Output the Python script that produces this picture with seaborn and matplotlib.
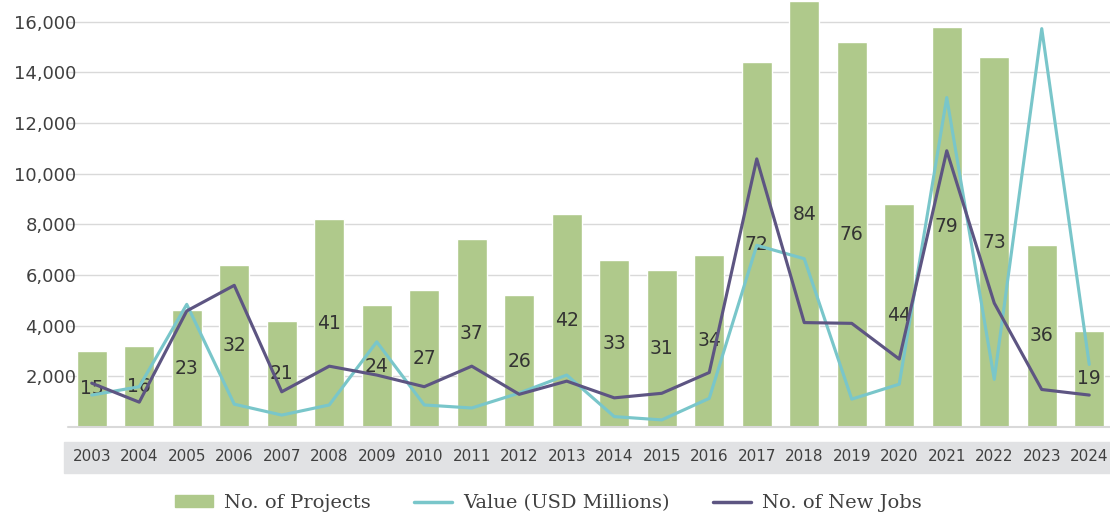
import numpy as np
import pandas as pd
import matplotlib
matplotlib.use('Agg')
import matplotlib.pyplot as plt
import seaborn as sns
from matplotlib.patches import Rectangle, Patch
from matplotlib.lines import Line2D

# 데이터
years = [str(y) for y in range(2003, 2025)]
projects = [15, 16, 23, 32, 21, 41, 24, 27, 37, 26, 42, 33, 31, 34, 72, 84, 76, 44, 79, 73, 36, 19]
value_usd = [1260, 1590, 4840, 900, 470, 870, 3360, 870, 750, 1340, 2050, 410, 280, 1130,
             7170, 6640, 1100, 1690, 13000, 1880, 15720, 2470]
new_jobs = [1730, 980, 4580, 5590, 1390, 2400, 2050, 1590, 2400, 1290, 1810, 1150, 1330, 2150,
            10580, 4120, 4090, 2680, 10900, 4890, 1480, 1260]

df = pd.DataFrame({'year': years, 'pos': range(len(years)),
                   'projects': projects, 'value': value_usd, 'jobs': new_jobs})

bar_color = '#afc98b'
teal = '#79c6ca'
purple = '#5d5582'
text_color = '#404040'

sns.set_style('white')
plt.rcParams['font.family'] = ['DejaVu Sans']

fig = plt.figure(figsize=(11.1, 5.17), dpi=100)

# x축 회색 띠
fig.add_artist(Rectangle((64 / 1110, 44 / 517), (1110 - 64) / 1110, 31 / 517,
                         transform=fig.transFigure, color='#e1e2e4', zorder=0))

ax = fig.add_axes([68 / 1110, 90 / 517, 1045 / 1110, 427 / 517])
ax.patch.set_alpha(0)

# 막대: 프로젝트 수
sns.barplot(data=df, x='year', y='projects', color=bar_color, width=0.63,
            saturation=1, ax=ax, zorder=2)
ax.bar_label(ax.containers[0], label_type='center', fontsize=13.5, color='#333333')
ax.set_xlim(-0.5, 21.5)
ax.set_ylim(0, 84.25)
ax.set_yticks(np.arange(0, 81, 10))
ax.set_yticklabels([])
ax.tick_params(axis='y', length=0)
ax.grid(axis='y', color='#d9d9d9', lw=1)
ax.set_axisbelow(True)
ax.axhline(0, color='#d9d9d9', lw=1.5, clip_on=False)
for s in ax.spines.values():
    s.set_visible(False)
ax.tick_params(axis='x', length=0, pad=16, labelsize=11, labelcolor=text_color)
ax.set_xlabel('')
ax.set_ylabel('')

# 선: 금액, 일자리 수
ax2 = ax.twinx()
sns.lineplot(data=df, x='pos', y='value', color=teal, lw=2.25, ax=ax2)
sns.lineplot(data=df, x='pos', y='jobs', color=purple, lw=2.25, ax=ax2)
ax2.set_xlim(-0.5, 21.5)
ax2.set_ylim(0, 16850)
ticks = list(range(2000, 16001, 2000))
ax2.set_yticks(ticks)
ax2.set_yticklabels([f'{v:,}' for v in ticks])
ax2.yaxis.tick_left()
ax2.tick_params(axis='y', length=0, pad=-6, labelsize=13, labelcolor=text_color)
for s in ax2.spines.values():
    s.set_visible(False)
ax2.set_ylabel('')
ax2.set_xlabel('')

# 범례
handles = [Patch(color=bar_color), Line2D([], [], color=teal, lw=2.5), Line2D([], [], color=purple, lw=2.5)]
labels = ['No. of Projects', 'Value (USD Millions)', 'No. of New Jobs']
fig.legend(handles, labels, loc='center', bbox_to_anchor=(0.494, 0.027), ncol=3, frameon=False,
           prop={'family': 'DejaVu Serif', 'size': 14}, labelcolor=text_color,
           handlelength=1.95, handleheight=0.55, handletextpad=0.6, columnspacing=2.2)

fig.savefig('out.png', dpi=100)
